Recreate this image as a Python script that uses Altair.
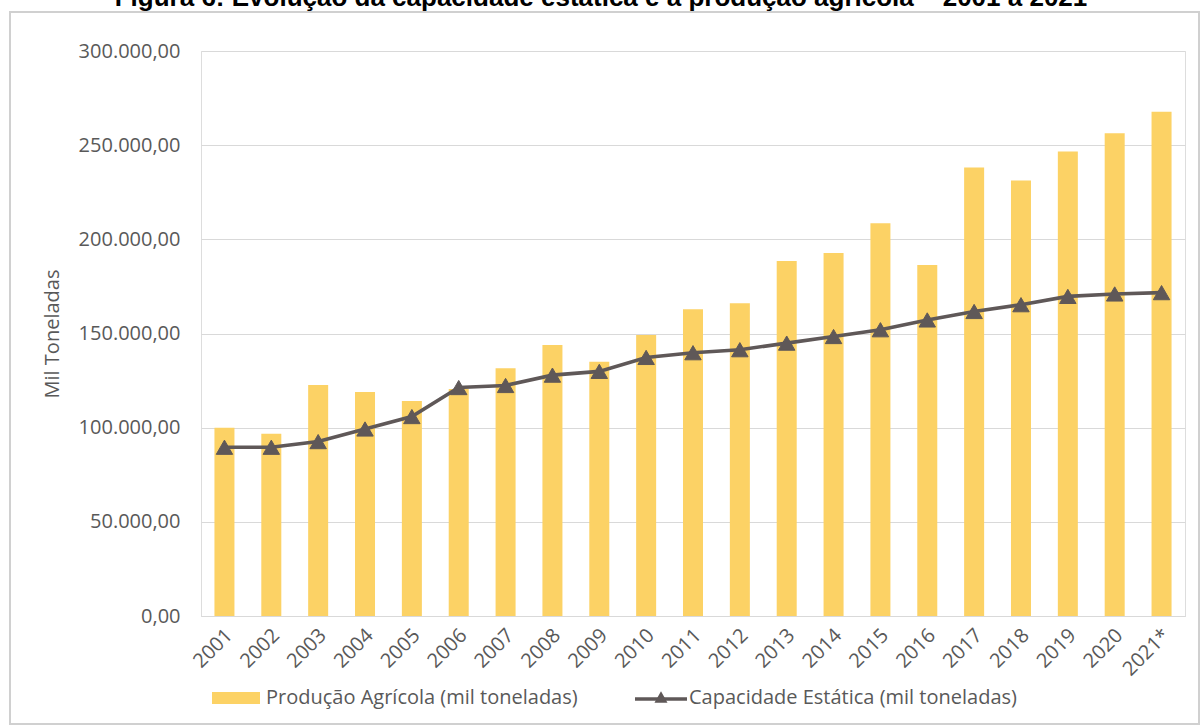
import altair as alt
import pandas as pd

# Harvest years (2021 is an estimate)
anos = ["2001", "2002", "2003", "2004", "2005", "2006", "2007", "2008", "2009", "2010",
        "2011", "2012", "2013", "2014", "2015", "2016", "2017", "2018", "2019", "2020", "2021*"]

# Produção agrícola (mil toneladas)
producao = [100000, 96800, 122700, 118900, 114200, 120500, 131500, 143900, 135000, 149200,
            162900, 166000, 188500, 192800, 208600, 186400, 238100, 231200, 246600, 256300, 267800]

# Capacidade estática de armazenagem (mil toneladas)
capacidade = [89600, 89600, 92600, 99300, 105900, 121300, 122400, 127900, 129900, 137300,
              139800, 141400, 144900, 148400, 152000, 157200, 161700, 165300, 169700, 171000, 171700]

y_ticks = [0, 50000, 100000, 150000, 200000, 250000, 300000]

titulo = "Figura 6: Evolução da capacidade estática e a produção agrícola – 2001 a 2021"
leg_barra = "Produção Agrícola (mil toneladas)"
leg_linha = "Capacidade Estática (mil toneladas)"

BAR = "#FCD265"
LINE = "#5F5858"
TXT = "#595959"
GRID = "#D9D9D9"
FONT = "Open Sans"

W, H = 984, 565

df = pd.DataFrame({"ano": anos, "producao": producao, "capacidade": capacidade})

x_enc = alt.X("ano:N", sort=anos,
              scale=alt.Scale(paddingInner=0.573, paddingOuter=0.287),
              axis=alt.Axis(title=None, labelAngle=-45, labelAlign="right",
                            labelBaseline="middle", labelPadding=16, labelOffset=5,
                            ticks=False, domain=True, domainColor=GRID, domainWidth=1,
                            grid=False, labelFont=FONT, labelFontSize=20, labelColor=TXT))

y_scale = alt.Scale(domain=[0, 300000], nice=False, zero=True)

bars = alt.Chart(df).mark_bar(color=BAR).encode(
    x=x_enc,
    y=alt.Y("producao:Q", scale=y_scale,
            axis=alt.Axis(values=y_ticks, title="Mil Toneladas",
                          labelExpr="datum.value == 0 ? '0,00' : format(datum.value / 1000, 'd') + '.000,00'",
                          grid=True, gridColor=GRID, gridWidth=1, domain=False, ticks=False,
                          labelPadding=21, labelFont=FONT, labelFontSize=20, labelColor=TXT,
                          titleFont=FONT, titleFontSize=20, titleColor=TXT, titleFontWeight="normal",
                          titleAngle=270, titleAlign="center", titleBaseline="middle",
                          titleX=-149, titleY=H / 2)),
)

line = alt.Chart(df).mark_line(color=LINE, strokeWidth=3.6).encode(
    x=alt.X("ano:N", sort=anos),
    y=alt.Y("capacidade:Q", scale=y_scale),
)

pts = alt.Chart(df).mark_point(shape="triangle-up", filled=True, size=270, color=LINE,
                               opacity=1, stroke=LINE, strokeWidth=1).encode(
    x=alt.X("ano:N", sort=anos),
    y=alt.Y("capacidade:Q", scale=y_scale),
)

one = pd.DataFrame({"k": [0]})

# Outer frame around the whole figure
frame = alt.Chart(one).mark_rect(fill=None, stroke="#D0D0D0", strokeWidth=2).encode(
    x=alt.value(-191), x2=alt.value(998), y=alt.value(-39), y2=alt.value(673))

title = alt.Chart(one).mark_text(text=titulo, font="Liberation Sans", fontWeight="bold",
                                 fontSize=26, color="#000000", align="center",
                                 baseline="alphabetic").encode(
    x=alt.value(400), y=alt.value(-45))

# Legend drawn below the axis labels
leg_rect = alt.Chart(one).mark_rect(color=BAR).encode(
    x=alt.value(11), x2=alt.value(59), y=alt.value(641), y2=alt.value(653))
leg_txt1 = alt.Chart(one).mark_text(text=leg_barra, font=FONT, fontSize=20, color=TXT,
                                    align="left", baseline="middle").encode(
    x=alt.value(65), y=alt.value(647))
leg_line = alt.Chart(one).mark_rule(color=LINE, strokeWidth=3.6).encode(
    x=alt.value(434), x2=alt.value(486), y=alt.value(648))
leg_tri = alt.Chart(one).mark_point(shape="triangle-up", filled=True, size=170, color=LINE,
                                    opacity=1).encode(
    x=alt.value(460), y=alt.value(646))
leg_txt2 = alt.Chart(one).mark_text(text=leg_linha, font=FONT, fontSize=20, color=TXT,
                                    align="left", baseline="middle").encode(
    x=alt.value(488), y=alt.value(647))

chart = alt.layer(frame, bars, line, pts, title, leg_rect, leg_txt1, leg_line, leg_tri,
                  leg_txt2).properties(
    width=W, height=H,
    autosize=alt.AutoSizeParams(type="none"),
    padding={"left": 201, "top": 51, "right": 17, "bottom": 110},
).configure_view(stroke=None).configure(background="white")

chart.save("out.html", embed_options={"renderer": "svg", "actions": False})
